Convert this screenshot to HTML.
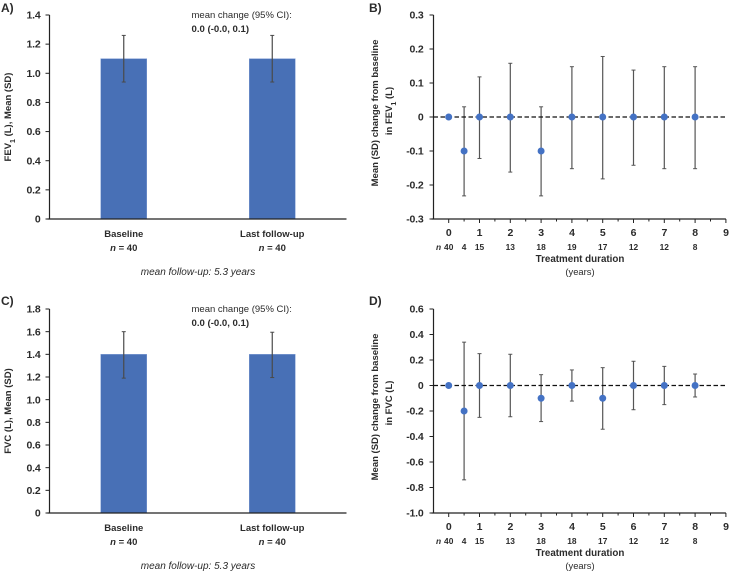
<!DOCTYPE html>
<html lang="en">
<head>
<meta charset="utf-8">
<title>FEV1 and FVC charts</title>
<style>
html,body{margin:0;padding:0;background:#fff;width:730px;height:573px;overflow:hidden}
svg{display:block;font-family:"Liberation Sans",sans-serif;fill:#262626;filter:blur(0.3px)}
text{fill:#2b2b2b}
.tick{font-size:10.5px;font-weight:bold;letter-spacing:-0.2px}
.lab{font-size:9.5px;font-weight:bold}
.n{font-size:8.4px;font-weight:bold}
.note{font-size:9.5px}
</style>
</head>
<body>
<svg id="chart" xmlns="http://www.w3.org/2000/svg" width="730" height="573" viewBox="0 0 730 573"></svg>
<script>
/* Panel A */
const barCategories = ['Baseline', 'Last follow-up'];
const barCounts = [40, 40];
const fev1Means = [1.1, 1.1];
const fev1Upper = [1.26, 1.26];
const fev1Lower = [0.94, 0.94];
const fev1Ticks = ['0', '0.2', '0.4', '0.6', '0.8', '1.0', '1.2', '1.4'];
/* Panel C */
const fvcMeans = [1.4, 1.4];
const fvcUpper = [1.6, 1.595];
const fvcLower = [1.19, 1.195];
const fvcTicks = ['0', '0.2', '0.4', '0.6', '0.8', '1.0', '1.2', '1.4', '1.6', '1.8'];
/* Panels B and D */
const durations = [0, 0.5, 1, 2, 3, 4, 5, 6, 7, 8];
const durationTicks = [0, 1, 2, 3, 4, 5, 6, 7, 8, 9];
const fev1ChangeCounts = [40, 4, 15, 13, 18, 19, 17, 12, 12, 8];
const fev1ChangeMeans = [0, -0.1, 0, 0, -0.1, 0, 0, 0, 0, 0];
const fev1ChangeUpper = [0, 0.03, 0.118, 0.158, 0.03, 0.148, 0.178, 0.138, 0.148, 0.148];
const fev1ChangeLower = [0, -0.232, -0.122, -0.162, -0.232, -0.152, -0.182, -0.142, -0.152, -0.152];
const fev1ChangeTicks = ['-0.3', '-0.2', '-0.1', '0', '0.1', '0.2', '0.3'];
const fvcChangeCounts = [40, 4, 15, 13, 18, 18, 17, 12, 12, 8];
const fvcChangeMeans = [0, -0.2, 0, 0, -0.1, 0, -0.1, 0, 0, 0];
const fvcChangeUpper = [0, 0.34, 0.25, 0.245, 0.085, 0.122, 0.14, 0.19, 0.15, 0.09];
const fvcChangeLower = [0, -0.74, -0.25, -0.245, -0.283, -0.122, -0.343, -0.19, -0.15, -0.09];
const fvcChangeTicks = ['-1.0', '-0.8', '-0.6', '-0.4', '-0.2', '0', '0.2', '0.4', '0.6'];

const svg = document.getElementById('chart');
const NS = 'http://www.w3.org/2000/svg';
function make(tag, props, text) {
  const el = document.createElementNS(NS, tag);
  for (const k in props) el.setAttribute(k, props[k]);
  if (text !== undefined) el.textContent = text;
  svg.appendChild(el);
  return el;
}
function line(x1, y1, x2, y2, stroke, width) {
  return make('line', {x1: x1, y1: y1, x2: x2, y2: y2, stroke: stroke, 'stroke-width': width});
}
function label(x, y, str, cls, anchor) {
  return make('text', {x: x, y: y, 'class': cls, 'text-anchor': anchor || 'middle'}, str);
}
function panelLetter(str, x, y) {
  const el = make('text', {x: x, y: y, style: 'font-size:12px;font-weight:bold'}, str);
  
  
}
function errorBar(x, yTop, yBottom, color) {
  const stem = line(x, yTop, x, yBottom, color, 1.2);
  
  
  const capTop = line(x - 2, yTop, x + 2, yTop, color, 1);
  
  
  const capBottom = line(x - 2, yBottom, x + 2, yBottom, color, 1);
  
  
}
function yTicks(ticks, yScale, axisX, gap) {
  ticks.forEach(function (t) {
    const y = yScale(parseFloat(t));
    const mark = line(axisX - 4, y, axisX, y, '#222', 1);
    
    
    const txt = label(axisX - gap, y + 3.6, t, 'tick', 'end');
    
    
  });
}
function rotatedTitle(x, y, parts) {
  const el = make('text', {transform: 'translate(' + x + ',' + y + ') rotate(-90)', 'class': 'lab', 'text-anchor': 'middle'});
  parts.forEach(function (p) {
    const s = document.createElementNS(NS, 'tspan');
    s.textContent = p[0];
    if (p[1]) { s.setAttribute('baseline-shift', 'sub'); s.setAttribute('font-size', '7'); }
    el.appendChild(s);
  });
  
  
}

function barPanel(o) {
  const left = 49.5, right = 346.5;
  const yScale = function (v) { return o.y0 + (o.yTop - o.y0) * v / o.max; };
  const xBand = function (i) { return left + (right - left) * (i + 0.5) / barCategories.length; };
  o.means.forEach(function (m, i) {
    const cx = xBand(i);
    const bar = make('rect', {x: cx - 23, y: yScale(m), width: 46, height: o.y0 - yScale(m), fill: '#4870b6', stroke: '#7f9dd3', 'stroke-width': 0.5});
    
    
    errorBar(cx, yScale(o.upper[i]), yScale(o.lower[i]), '#4a4a4a');
    const cat = label(cx, o.y0 + 18, barCategories[i], 'lab');
    
    
    const cnt = make('text', {x: cx, y: o.y0 + 32, 'class': 'lab', 'text-anchor': 'middle'});
    cnt.innerHTML = '<tspan font-style="italic">n</tspan> = ' + barCounts[i];
    
    
  });
  const yAxis = line(left, o.yTop, left, o.y0, '#222', 1.2);
  
  
  const xAxis = line(left - 2, o.y0, right, o.y0, '#222', 1.2);
  
  
  yTicks(o.ticks, yScale, left, 9);
  rotatedTitle(11, o.titleY, o.title);
  const n1 = label(191.5, o.noteY, 'mean change (95% CI):', 'note', 'start');
  
  
  const n2 = make('text', {x: 191.5, y: o.noteY + 14, style: 'font-size:9.6px;font-weight:bold'}, '0.0 (-0.0, 0.1)');
  
  
  const foot = make('text', {x: 198, y: o.y0 + 56, 'text-anchor': 'middle', style: 'font-size:10px;font-style:italic'}, 'mean follow-up: 5.3 years');
  
  
}

function pointPanel(o) {
  const left = 433.5;
  const x0 = 448.7, step = 30.8;
  const xScale = function (v) { return x0 + step * v; };
  const yScale = function (v) { return o.y0 + (o.yTop - o.y0) * (v - o.min) / (o.max - o.min); };
  const yAxis = line(left, o.yTop, left, o.y0, '#222', 1.2);
  
  
  const xAxis = line(left - 2, o.y0, xScale(9), o.y0, '#222', 1.2);
  
  
  yTicks(o.ticks, yScale, left, 10);
  durationTicks.forEach(function (t) {
    const mark = line(xScale(t), o.y0, xScale(t), o.y0 + 4, '#222', 1);
    
    
    if (t < 9) {
      const minor = line(xScale(t + 0.5), o.y0, xScale(t + 0.5), o.y0 + 2.5, '#222', 1);
      
      
    }
    const txt = label(xScale(t), o.y0 + 17, String(t), 'tick');
    
    
  });
  const nMark = make('text', {x: 438.5, y: o.y0 + 31, 'class': 'n', 'text-anchor': 'middle', 'font-style': 'italic'}, 'n');
  
  
  durations.forEach(function (d, i) {
    const txt = label(xScale(d), o.y0 + 31, String(o.counts[i]), 'n');
    
    
    if (i > 0) errorBar(xScale(d), yScale(o.upper[i]), yScale(o.lower[i]), '#555');
  });
  const ref = make('line', {x1: left, y1: yScale(0), x2: xScale(9), y2: yScale(0), stroke: '#111', 'stroke-width': 1.2, 'stroke-dasharray': '4.5 2.5'});
  
  
  durations.forEach(function (d, i) {
    const pt = make('circle', {cx: xScale(d), cy: yScale(o.means[i]), r: 3.5, fill: '#4472c4'});
    
    
  });
  const xt = make('text', {x: 580, y: o.y0 + 43, 'text-anchor': 'middle', style: 'font-size:9.8px;font-weight:bold'}, 'Treatment duration');
  
  
  const xu = make('text', {x: 580, y: o.y0 + 56, 'text-anchor': 'middle', style: 'font-size:9.4px'}, '(years)');
  
  
  rotatedTitle(378, o.titleY, [['Mean (SD) change from baseline']]);
  rotatedTitle(392, o.title2Y, o.title2);
}

panelLetter('A)', 1, 12);
panelLetter('B)', 369, 12);
panelLetter('C)', 1, 305);
panelLetter('D)', 369, 305);

barPanel({y0: 219, yTop: 15, max: 1.4, means: fev1Means, upper: fev1Upper, lower: fev1Lower, ticks: fev1Ticks,
  title: [['FEV'], ['1', true], [' (L), Mean (SD)']], titleY: 117, noteY: 18});
barPanel({y0: 513, yTop: 309, max: 1.8, means: fvcMeans, upper: fvcUpper, lower: fvcLower, ticks: fvcTicks,
  title: [['FVC (L), Mean (SD)']], titleY: 411, noteY: 312});
pointPanel({y0: 219, yTop: 15, min: -0.3, max: 0.3, means: fev1ChangeMeans, upper: fev1ChangeUpper, lower: fev1ChangeLower,
  counts: fev1ChangeCounts, ticks: fev1ChangeTicks, titleY: 113, title2Y: 111, title2: [['in FEV'], ['1', true], [' (L)']]});
pointPanel({y0: 513, yTop: 309, min: -1.0, max: 0.6, means: fvcChangeMeans, upper: fvcChangeUpper, lower: fvcChangeLower,
  counts: fvcChangeCounts, ticks: fvcChangeTicks, titleY: 407, title2Y: 403, title2: [['in FVC (L)']]});
</script>
</body>
</html>
